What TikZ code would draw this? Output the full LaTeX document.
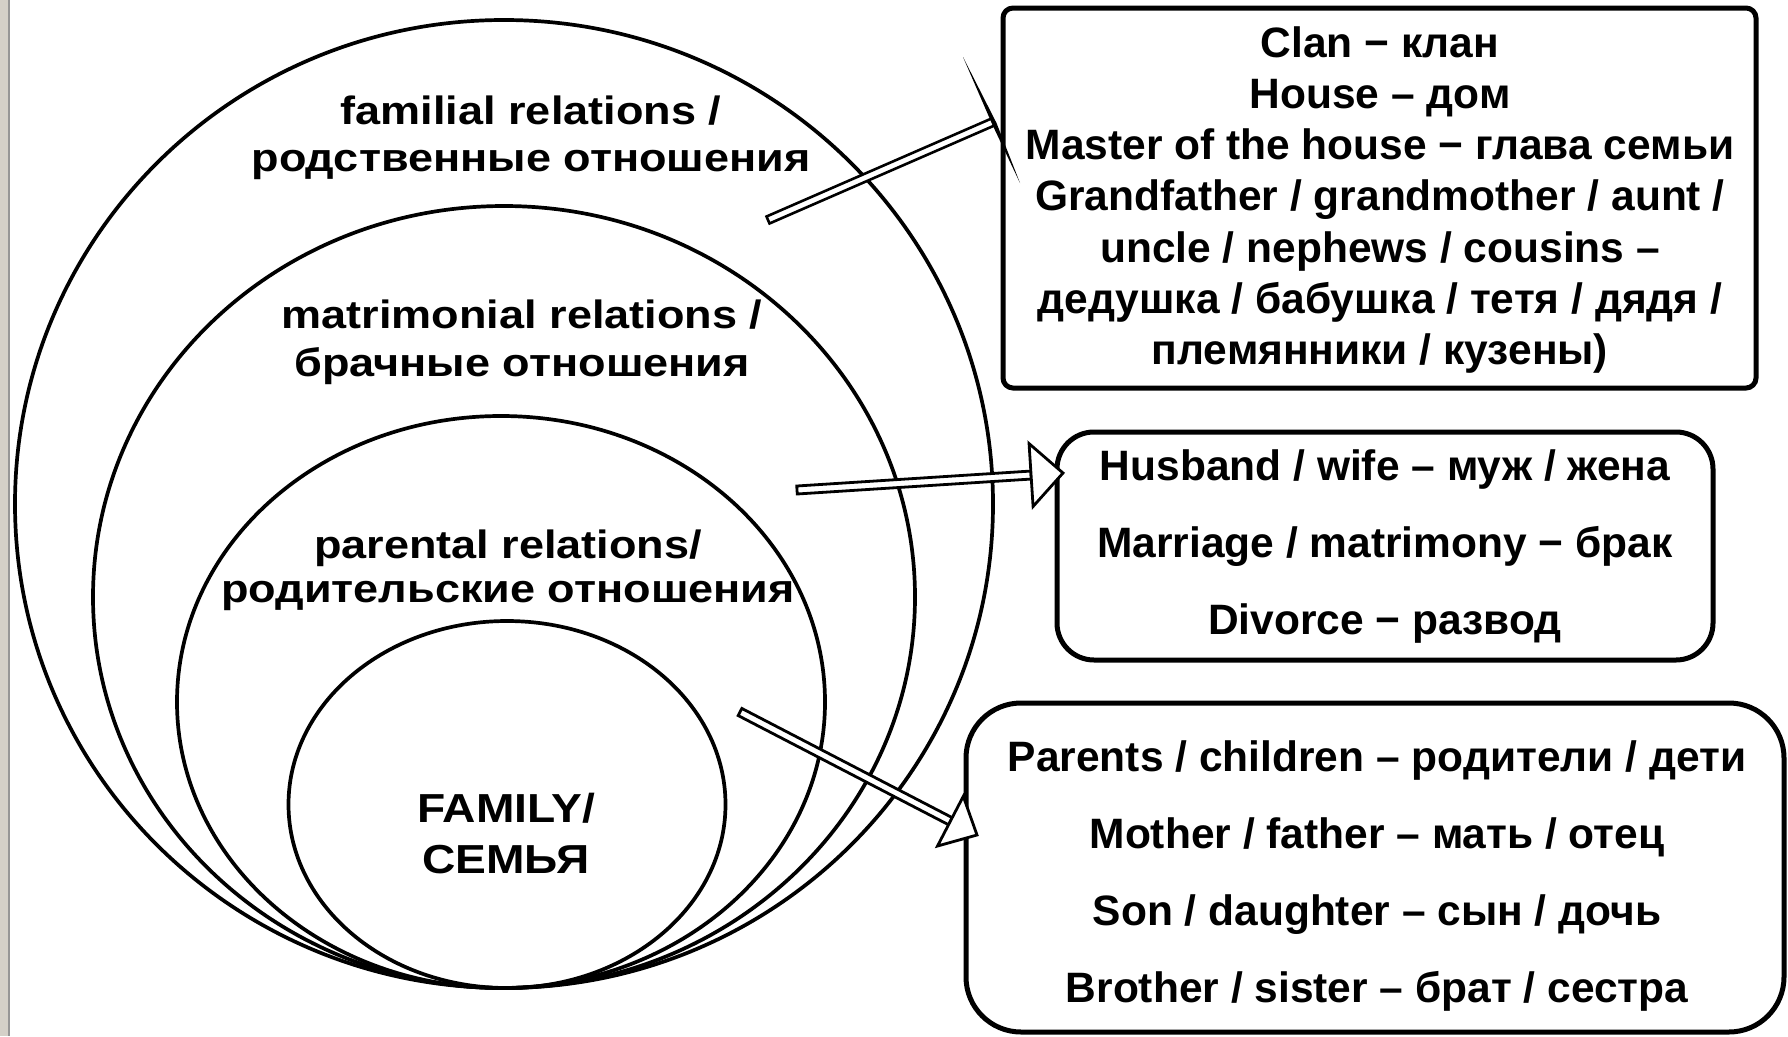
\documentclass[tikz,border=0pt]{standalone}
\usepackage{fontspec}
\setmainfont{Liberation Sans}
\newfontfamily\circfont[FakeStretch=1.14]{Liberation Sans}
\usetikzlibrary{shapes.geometric,calc}
\definecolor{stripgray}{RGB}{212,208,200}
\definecolor{stripdark}{RGB}{150,150,150}
\newcommand\hollowarrow[4]{%
  \path ($(#2)!#3!(#1)$) coordinate (hb);
  \filldraw[arrowline] ($(#1)!4pt!90:(#2)$) -- ($(hb)!4pt!90:(#2)$) -- ($(hb)!4pt!-90:(#2)$) -- ($(#1)!4pt!-90:(#2)$) -- cycle;
  \filldraw[arrowline] ($(hb)!#4!90:(#2)$) -- (#2) -- ($(hb)!#4!-90:(#2)$) -- cycle;
}
\begin{document}
\begin{tikzpicture}[x=1pt,y=-1pt,
  ring/.style={draw=black, shape=ellipse, line width=3.7pt, inner sep=0pt, outer sep=0pt},
  circtext/.style={font=\circfont\bfseries\fontsize{39.5}{#1}\selectfont, align=center, inner sep=0pt},
  famtext/.style={font=\circfont\bfseries\fontsize{40.5}{#1}\selectfont, align=center, inner sep=0pt},
  boxtext/.style={font=\bfseries\fontsize{42.5}{#1}\selectfont, align=center, inner sep=0pt},
  framebox/.style={draw=black, line width=5pt, shape=rectangle, inner sep=0pt},
  arrowline/.style={draw=black, fill=white, line width=2.8pt, line join=miter}]
\fill[white] (0,0) rectangle (1788,1036);
\useasboundingbox (0,0) rectangle (1788,1036);
\fill[stripgray] (0,0) rectangle (8,1036);
\fill[stripdark] (8,0) rectangle (10,1036);

% nested ellipses
\node[ring, minimum width=978pt, minimum height=968pt] (outer) at (504,504) {};
\node[ring, minimum width=822pt, minimum height=782pt] (matr) at (504,597) {};
\node[ring, minimum width=648pt, minimum height=572pt] (par) at (501,702) {};
\node[ring, minimum width=437pt, minimum height=367pt] (fam) at (507,804.5) {};

\node[circtext=47] (lf) at (531,138) {familial relations /\\родственные отношения};
\node[circtext=48] (lm) at (522,342) {matrimonial relations /\\брачные отношения};
\node[circtext=44] (lp) at (508,570) {parental relations/\\родительские отношения};
\node[famtext=51] (lfam) at (506,833.6) {FAMILY/\\СЕМЬЯ};

% boxes
\node[framebox, rounded corners=10pt, minimum width=753pt, minimum height=380pt] (box1) at (1379.5,198) {};
\node[boxtext=51.3] (t1) at (1380,200) {Clan − клан\\House – дом\\Master of the house − глава семьи\\Grandfather / grandmother / aunt /\\uncle / nephews / cousins –\\дедушка / бабушка / тетя / дядя /\\племянники / кузены)};
\node[framebox, rounded corners=37pt, minimum width=656pt, minimum height=228pt] (box2) at (1385,546) {};
\node[boxtext=77] (t2) at (1385,546.2) {Husband / wife – муж / жена\\Marriage / matrimony − брак\\Divorce − развод};
\node[framebox, rounded corners=55pt, minimum width=818pt, minimum height=329pt] (box3) at (1375,867.5) {};
\node[boxtext=77.3] (t3) at (1377,876) {Parents / children – родители / дети\\Mother / father – мать / отец\\Son / daughter – сын / дочь\\Brother / sister – брат / сестра};

% connectors
\coordinate (a1s) at (768,220);
\coordinate (a1e) at (993,122);
\coordinate (a2s) at (797,490);
\coordinate (a2e) at (1063,473);
\coordinate (a3s) at (740,712);
\coordinate (a3e) at (977,835);

\filldraw[arrowline, line width=2.6pt] ($(a1s)!3.8pt!90:(a1e)$) -- ($(a1e)!3.8pt!-90:(a1s)$) -- ($(a1e)!3.8pt!90:(a1s)$) -- ($(a1s)!3.8pt!-90:(a1e)$) -- cycle;
\fill[black] (963,57) -- (996.5,123) -- (1020,183) -- (992.5,125) -- cycle;

\hollowarrow{a2s}{a2e}{32pt}{31.5pt}
\hollowarrow{a3s}{a3e}{30pt}{28pt}
\end{tikzpicture}
\end{document}
